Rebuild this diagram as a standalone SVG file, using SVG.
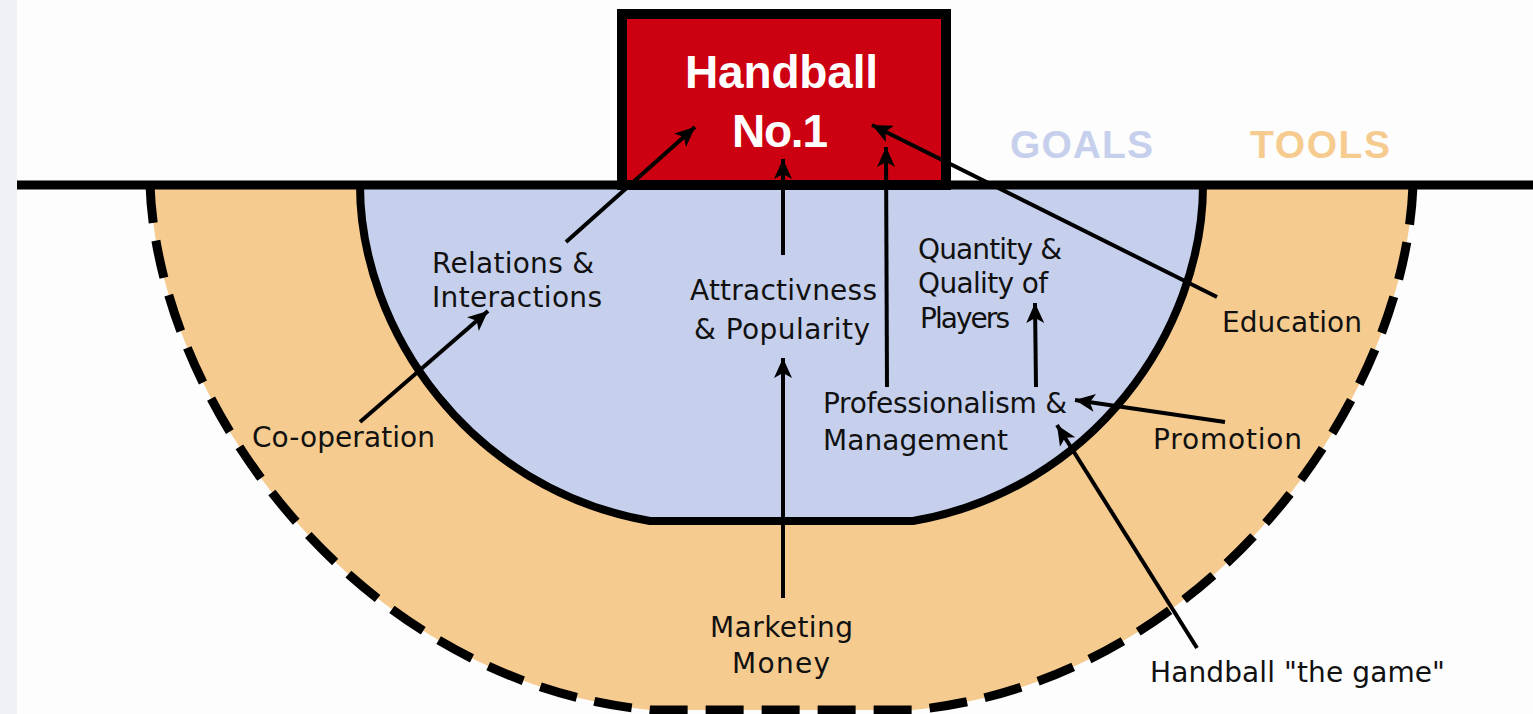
<svg xmlns="http://www.w3.org/2000/svg" width="1533" height="714" viewBox="0 0 1533 714">
<style>
.lbl{font-family:"DejaVu Sans","Liberation Sans",sans-serif;font-size:28px;fill:#111;}
.title{font-family:"Liberation Sans",Arial,sans-serif;font-weight:bold;font-size:46px;fill:#fff;}
.legend{font-family:"Liberation Sans",Arial,sans-serif;font-weight:bold;font-size:39px;}
.conn{stroke:#000;stroke-width:4;fill:none;marker-end:url(#ah);}
</style>
<defs>
<marker id="ah" markerUnits="userSpaceOnUse" markerWidth="22" markerHeight="20" refX="20" refY="10" orient="auto">
<path d="M0,1 L20,10 L0,19 L5,10 Z" fill="#000"/>
</marker>
</defs>
<rect x="0" y="0" width="1533" height="714" fill="#fdfdfd"/>
<rect x="0" y="0" width="17" height="714" fill="#eef2f7"/>
<g id="zones">
<path d="M150,185 C158,405 360,682 650,710 L913,710 C1203,682 1405,405 1413,185 Z" fill="#f6cb8f"/>
<path d="M150,185 C158,405 360,682 650,710 L913,710 C1203,682 1405,405 1413,185" fill="none" stroke="#000" stroke-width="9" stroke-dasharray="38 18"/>
<path d="M360,185 C360,330 470,490 650,521 L913,521 C1093,490 1203,330 1203,185 Z" fill="#c6d0ec"/>
<path d="M360,185 C360,330 470,490 650,521 L913,521 C1093,490 1203,330 1203,185" fill="none" stroke="#000" stroke-width="8"/>
<line x1="17" y1="185" x2="1533" y2="185" stroke="#000" stroke-width="9"/>
</g>
<g id="handball-no1">
<rect x="622" y="14" width="324" height="171" fill="#cc0010" stroke="#000" stroke-width="10"/>
<text class="title" x="685" y="88" textLength="193" lengthAdjust="spacing">Handball</text>
<text class="title" x="732" y="147" textLength="96" lengthAdjust="spacing">No.1</text>
</g>
<g id="legend">
<text class="legend" x="1010" y="158" fill="#c6d0ec" textLength="143" lengthAdjust="spacing">GOALS</text>
<text class="legend" x="1250" y="158" fill="#f6cb8f" textLength="140" lengthAdjust="spacing">TOOLS</text>
</g>
<g id="connectors">
<line class="conn" x1="566" y1="242" x2="695" y2="127"/>
<line class="conn" x1="360" y1="422" x2="488" y2="311"/>
<line class="conn" x1="783" y1="255" x2="783" y2="159"/>
<line class="conn" x1="783" y1="598" x2="783" y2="358"/>
<line class="conn" x1="887" y1="387" x2="886" y2="147"/>
<line class="conn" x1="1217" y1="297" x2="872" y2="125"/>
<line class="conn" x1="1036" y1="387" x2="1035" y2="303"/>
<line class="conn" x1="1225" y1="422" x2="1075" y2="400"/>
<line class="conn" x1="1197" y1="648" x2="1057" y2="425"/>
</g>
<g id="relations">
<text class="lbl" x="432" y="273" textLength="162" lengthAdjust="spacing">Relations &amp;</text>
<text class="lbl" x="432" y="307" textLength="170" lengthAdjust="spacing">Interactions</text>
</g>
<g id="attractiveness">
<text class="lbl" x="690" y="300" textLength="187" lengthAdjust="spacing">Attractivness</text>
<text class="lbl" x="694" y="339" textLength="176" lengthAdjust="spacing">&amp; Popularity</text>
</g>
<g id="quantity">
<text class="lbl" x="918" y="259" textLength="144" lengthAdjust="spacing">Quantity &amp;</text>
<text class="lbl" x="918" y="293" textLength="130" lengthAdjust="spacing">Quality of</text>
<text class="lbl" x="920" y="328" textLength="90" lengthAdjust="spacing">Players</text>
</g>
<g id="professionalism">
<text class="lbl" x="823" y="413" textLength="244" lengthAdjust="spacing">Professionalism &amp;</text>
<text class="lbl" x="823" y="450" textLength="185" lengthAdjust="spacing">Management</text>
</g>
<g id="cooperation">
<text class="lbl" x="252" y="447" textLength="183" lengthAdjust="spacing">Co-operation</text>
</g>
<g id="education">
<text class="lbl" x="1222" y="332" textLength="140" lengthAdjust="spacing">Education</text>
</g>
<g id="promotion">
<text class="lbl" x="1153" y="449" textLength="149" lengthAdjust="spacing">Promotion</text>
</g>
<g id="marketing">
<text class="lbl" x="710" y="637" textLength="143" lengthAdjust="spacing">Marketing</text>
<text class="lbl" x="732" y="673" textLength="98" lengthAdjust="spacing">Money</text>
</g>
<g id="handball-game">
<text class="lbl" x="1150" y="682" textLength="295" lengthAdjust="spacing">Handball "the game"</text>
</g>
</svg>
